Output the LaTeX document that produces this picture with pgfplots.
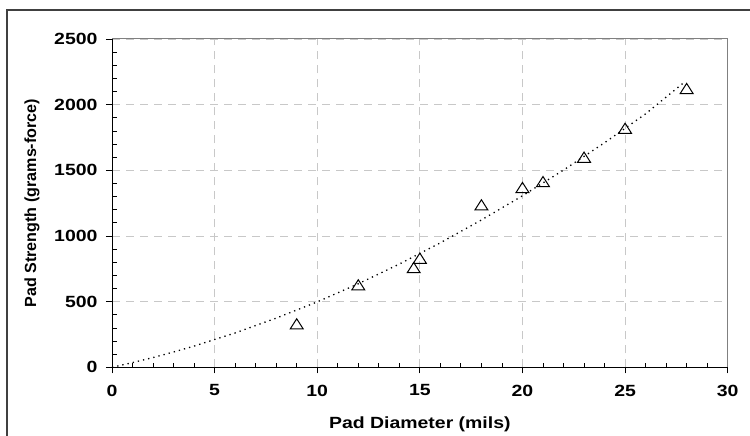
\documentclass[border=0pt]{standalone}
\usepackage{pgfplots}
\pgfplotsset{compat=1.18}
\usepackage{fontspec}
\setmainfont{Liberation Sans}
\newfontfamily\hfont[FakeStretch=1.2, BoldFeatures={FakeStretch=1.2}]{Liberation Sans}
\definecolor{gridgray}{HTML}{C8C8C8}
\definecolor{framegray}{HTML}{808080}
\definecolor{bordergray}{HTML}{404040}
\begin{document}
\begin{tikzpicture}
\useasboundingbox (0,0) rectangle (750pt,436pt);
\draw[bordergray, line width=1.5pt] (7pt,0pt) -- (7pt,426pt) -- (751pt,426pt);
\begin{axis}[
  at={(112pt,68.7pt)}, anchor=origin,
  scale only axis, width=615.7pt, height=328.3pt,
  xmin=0, xmax=30, ymin=0, ymax=2500,
  axis lines*=left,
  axis line style={black, line width=1pt},
  xtick={0,5,...,30}, ytick={0,500,...,2500},
  tick align=outside, major tick length=6pt,
  tick style={black, line width=0.8pt},
  grid=major,
  major grid style={gridgray, line width=0.9pt, dash pattern=on 8pt off 6pt},
  scaled ticks=false,
  /pgf/number format/1000 sep={},
  /pgf/number format/assume math mode=true,
  ticklabel style={font=\hfont\bfseries\fontsize{16.2}{18}\selectfont},
  xticklabel style={yshift=-8pt},
  yticklabel style={xshift=-5pt},
  xlabel={Pad Diameter (mils)},
  ylabel={Pad Strength (grams-force)},
  xlabel style={font=\hfont\bfseries\fontsize{16.2}{18}\selectfont, at={(axis description cs:0.5,-0.185)}, anchor=base},
  ylabel style={font=\bfseries\fontsize{16.1}{18}\selectfont, at={(axis description cs:-0.13,0.5)}, anchor=center},
  clip=false,
]
\draw[framegray, line width=1pt] (rel axis cs:0,1) -- (rel axis cs:1,1) -- (rel axis cs:1,0);
\addplot[black, line width=1.3pt, dash pattern=on 1.3pt off 4pt, no marks] coordinates {
 (0,0) (1,35.6) (2,74.4) (3,116.4) (4,161.6) (6,261.6) (8,374.4) (10,498) (12,636)
 (14,786) (16,948) (18,1122) (20,1306) (22,1502) (24,1710) (26,1930) (27.8,2160)
};
\addplot[only marks, mark=triangle, mark size=6.8pt, mark options={black, line width=1pt, xscale=1.1, fill=none}] coordinates {
 (9,318) (12,615) (14.7,746) (15,818) (18,1224) (20,1356) (21,1401) (23,1587) (25,1807) (28,2110)
};
\end{axis}
\begin{axis}[
  at={(112pt,68.7pt)}, anchor=origin,
  scale only axis, width=615.7pt, height=328.3pt,
  xmin=0, xmax=30, ymin=0, ymax=2500,
  axis lines*=left,
  axis line style={draw=none},
  xtick={1,2,3,4,6,7,8,9,11,12,13,14,16,17,18,19,21,22,23,24,26,27,28,29},
  ytick={100,200,300,400,600,700,800,900,1100,1200,1300,1400,1600,1700,1800,1900,2100,2200,2300,2400},
  xticklabels={}, yticklabels={},
  tick align=inside, major tick length=4.5pt,
  tick style={black, line width=0.8pt},
]
\end{axis}
\end{tikzpicture}
\end{document}
